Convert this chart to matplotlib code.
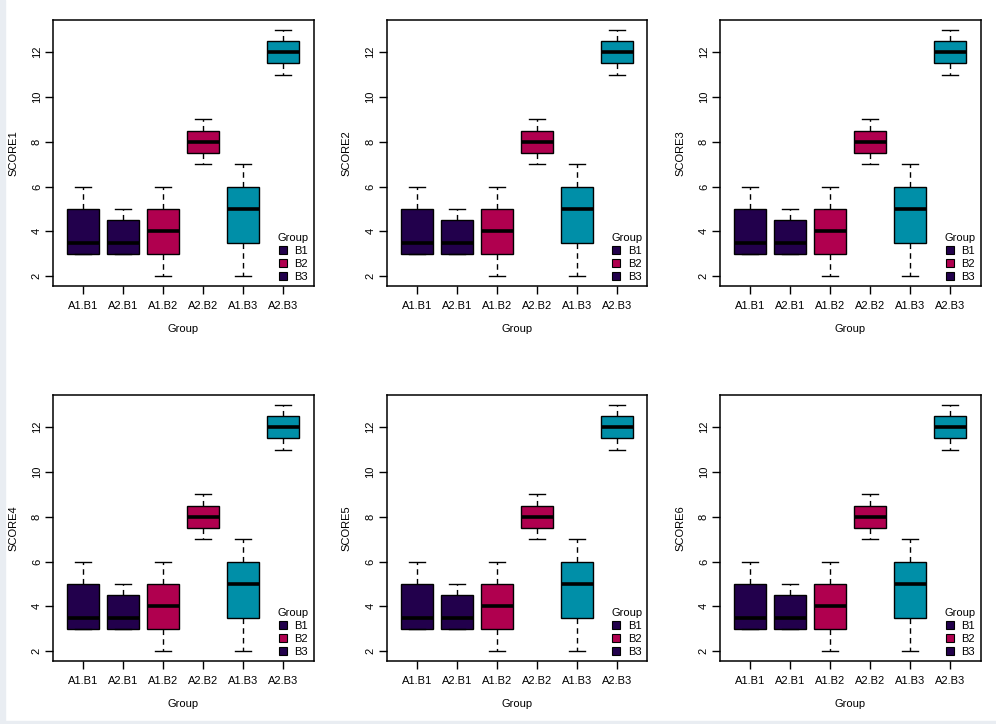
import numpy as np
import matplotlib
matplotlib.use("Agg")
import matplotlib.pyplot as plt
from matplotlib.patches import Patch, Rectangle

plt.rcParams['font.family'] = ['Liberation Sans', 'DejaVu Sans']

groups = ["A1.B1", "A2.B1", "A1.B2", "A2.B2", "A1.B3", "A2.B3"]
whislo = [3, 3, 2, 7, 2, 11]
q1 = [3, 3, 3, 7.5, 3.5, 11.5]
med = [3.5, 3.5, 4, 8, 5, 12]
q3 = [5, 4.5, 5, 8.5, 6, 12.5]
whishi = [6, 5, 6, 9, 7, 13]
box_colors = ["#22004c", "#22004c", "#b0004f", "#b0004f", "#008fa8", "#008fa8"]
legend_labels = ["B1", "B2", "B3"]
legend_colors = ["#22004c", "#b0004f", "#22004c"]
scores = ["SCORE1", "SCORE2", "SCORE3", "SCORE4", "SCORE5", "SCORE6"]

W, H = 996, 724
fig = plt.figure(figsize=(W / 100, H / 100), dpi=100)
fig.patch.set_facecolor("white")
# light grey strips at left and bottom edge
fig.patches.append(Rectangle((0, 0), 5 / W, 1, transform=fig.transFigure, color="#e9edf2", zorder=-1))
fig.patches.append(Rectangle((0, 0), 1, 3 / H, transform=fig.transFigure, color="#e9edf2", zorder=-1))

stats = []
for i, g in enumerate(groups):
    stats.append(dict(label=g, whislo=whislo[i], q1=q1[i], med=med[i], q3=q3[i], whishi=whishi[i], fliers=[]))

for k, score in enumerate(scores):
    r, c = divmod(k, 3)
    left = 53 + c * 333.5
    top = 20 + r * 375
    ax = fig.add_axes([left / W, (H - top - 266) / H, 260.5 / W, 266 / H])
    bp = ax.bxp(stats, positions=range(1, 7), widths=0.8, patch_artist=True,
                showfliers=False,
                boxprops=dict(linewidth=1, edgecolor="black"),
                medianprops=dict(color="black", linewidth=2.6, solid_capstyle="butt"),
                whiskerprops=dict(linestyle=(0, (4, 3)), linewidth=1, color="black"),
                capprops=dict(linewidth=1, color="black"),
                capwidths=0.4)
    for patch, col in zip(bp["boxes"], box_colors):
        patch.set_facecolor(col)
    ax.set_xlim(0.24, 6.76)
    ax.set_ylim(1.56, 13.44)
    ax.set_yticks([2, 4, 6, 8, 10, 12])
    ax.set_xticks(range(1, 7))
    ax.set_xticklabels(groups)
    ax.tick_params(axis="both", labelsize=8, length=6, width=1, direction="out")
    ax.tick_params(axis="x", pad=4.5)
    ax.tick_params(axis="y", pad=2)
    for lab in ax.get_yticklabels():
        lab.set_rotation(90)
        lab.set_verticalalignment("center")
    for s in ax.spines.values():
        s.set_linewidth(1.1)
    ax.set_xlabel("Group", fontsize=8, labelpad=10)
    ax.set_ylabel(score, fontsize=8, labelpad=10)
    handles = [Patch(facecolor=lc, edgecolor="black", linewidth=0.8) for lc in legend_colors]
    leg = ax.legend(handles, legend_labels, title="Group", loc="lower right",
                    bbox_to_anchor=(1.0, 0.0), frameon=False, fontsize=8, title_fontsize=8,
                    handlelength=0.7, handleheight=0.7, handletextpad=0.7, labelspacing=0.25,
                    borderaxespad=0.2, borderpad=0.2)

fig.savefig("out.png", dpi=100)
